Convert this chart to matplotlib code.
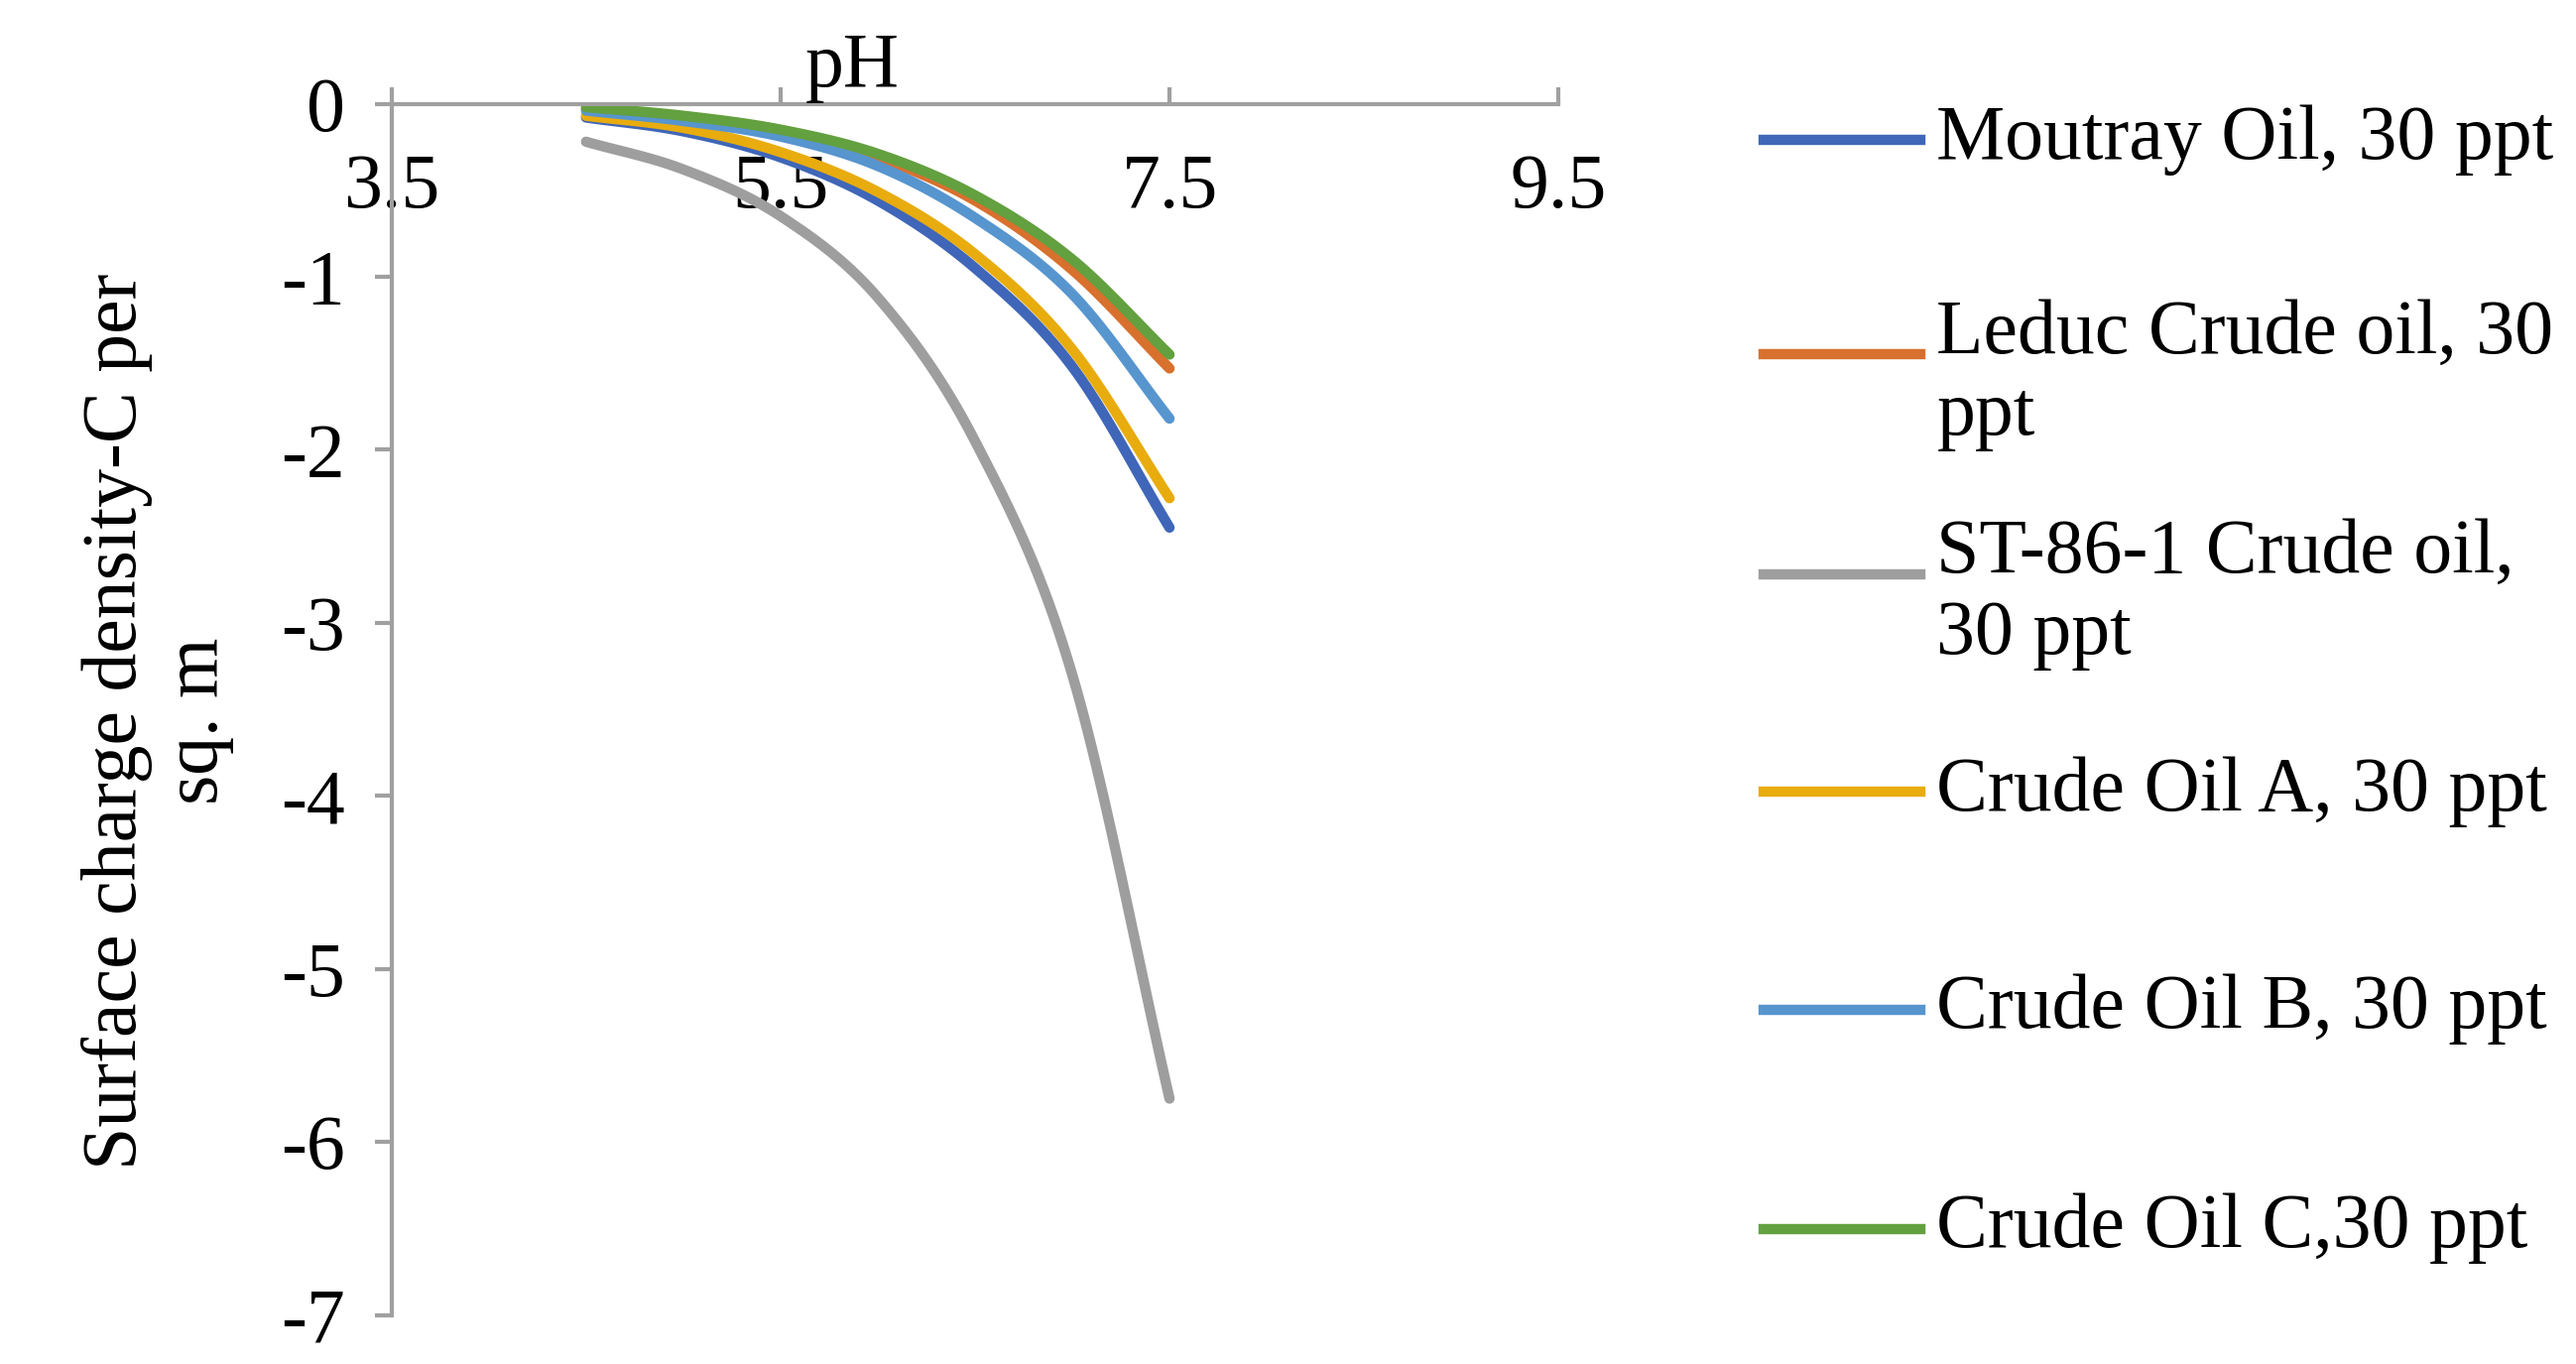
import numpy as np
import matplotlib
matplotlib.use("Agg")
import matplotlib.pyplot as plt
from matplotlib.lines import Line2D

plt.rcParams['font.family'] = ['Liberation Serif', 'DejaVu Serif']

ph = [4.5, 5.0, 5.5, 6.0, 6.5, 7.0, 7.5]
names = ["Moutray Oil, 30 ppt", "Leduc Crude oil, 30\nppt", "ST-86-1 Crude oil,\n30 ppt",
         "Crude Oil A, 30 ppt", "Crude Oil B, 30 ppt", "Crude Oil C,30 ppt"]
moutray = [-0.08, -0.16, -0.31, -0.56, -0.95, -1.52, -2.45]
leduc = [-0.03, -0.08, -0.16, -0.31, -0.56, -0.96, -1.53]
st86 = [-0.22, -0.38, -0.65, -1.12, -1.95, -3.3, -5.75]
oilA = [-0.07, -0.14, -0.28, -0.51, -0.87, -1.42, -2.28]
oilB = [-0.04, -0.1, -0.19, -0.36, -0.66, -1.1, -1.82]
oilC = [-0.02, -0.07, -0.15, -0.29, -0.53, -0.9, -1.45]
series = [moutray, leduc, st86, oilA, oilB, oilC]
colors = ['#3F66B8', '#D8702E', '#9E9E9E', '#E8AC0E', '#5795CF', '#63A03F']

def smooth(x, y, n=20):
    x = np.asarray(x, float); y = np.asarray(y, float)
    P = np.column_stack([x, y])
    P = np.vstack([2*P[0]-P[1], P, 2*P[-1]-P[-2]])
    out = []
    for i in range(1, len(P)-2):
        p0, p1, p2, p3 = P[i-1], P[i], P[i+1], P[i+2]
        for t in np.linspace(0, 1, n, endpoint=False):
            t2, t3 = t*t, t*t*t
            out.append(0.5*((2*p1) + (-p0+p2)*t + (2*p0-5*p1+4*p2-p3)*t2 + (-p0+3*p1-3*p2+p3)*t3))
    out.append(P[-2])
    out = np.array(out)
    return out[:, 0], out[:, 1]

FS = 56
LW = 7.5
fig = plt.figure(figsize=(25.97, 13.75), dpi=100)
ax = fig.add_axes([0.152, 0.036, 0.453, 0.888])
for s, c in zip(series, colors):
    xs, ys = smooth(ph, s)
    ax.plot(xs, ys, color=c, lw=LW, solid_capstyle='round')
ax.set_xlim(3.5, 9.5)
ax.set_ylim(-7, 0)
ax.set_xticks([3.5, 5.5, 7.5, 9.5])
ax.set_yticks(range(-7, 1))
ax.set_yticklabels([str(v) for v in range(-7, 1)])
ax.spines['bottom'].set_position(('data', 0))
ax.spines['top'].set_visible(False)
ax.spines['right'].set_visible(False)
for sp in ['bottom', 'left']:
    ax.spines[sp].set_color('#A0A0A0')
    ax.spines[sp].set_linewidth(3)
ax.tick_params(axis='both', labelsize=FS, color='#A0A0A0', width=3, length=12)
ax.tick_params(axis='x', direction='in', pad=36)
ax.tick_params(axis='y', pad=22)
ax.text(0.395, 1.0, "pH", transform=ax.transAxes, fontsize=FS, ha='center', va='bottom')
ax.set_ylabel("Surface charge density-C per\nsq. m", fontsize=FS, linespacing=1.2)
ax.yaxis.set_label_coords(-0.135, 0.49)

W, H = 1563, 827
ys_leg = [85, 215, 348, 480, 612, 745]
for name, c, yl in zip(names, colors, ys_leg):
    yf = 1 - yl / H
    fig.add_artist(Line2D([1070/W, 1165/W], [yf, yf], color=c, lw=LW, transform=fig.transFigure))
    if '\n' in name:
        fig.text(1175/W, 1 - (yl - 34)/H, name, fontsize=FS, va='top', ha='left', linespacing=1.2)
    else:
        fig.text(1175/W, yf, name, fontsize=FS, va='center', ha='left')

fig.savefig("out.png", dpi=100)
